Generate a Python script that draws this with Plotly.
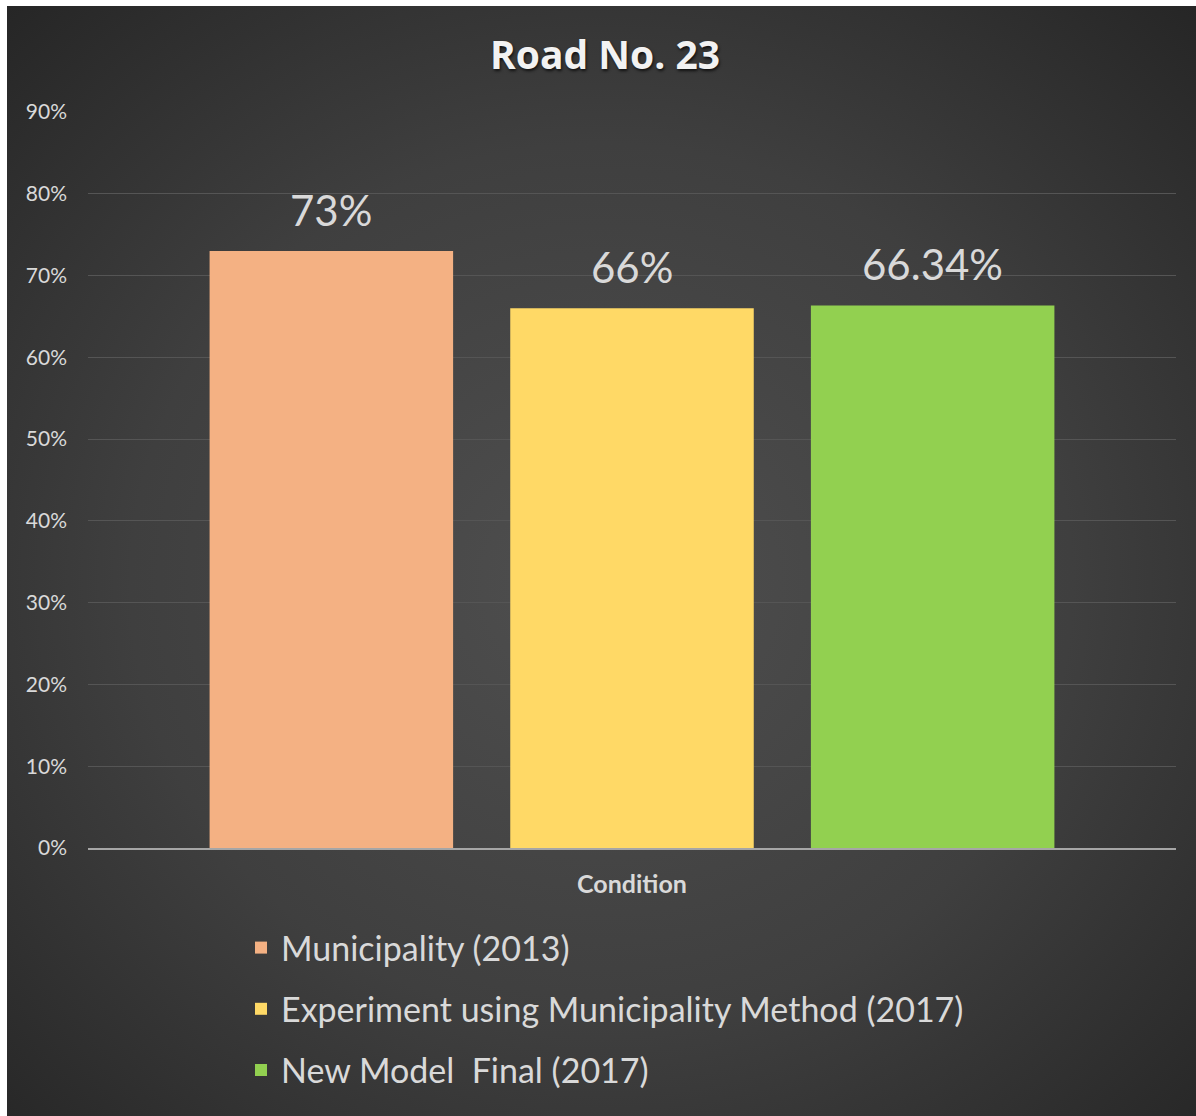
import base64
import plotly.graph_objects as go

# ---- data ----
category = ["Condition"]
series_names = ["Municipality (2013)",
                "Experiment using Municipality Method (2017)",
                "New Model  Final (2017)"]
series_values = [0.73, 0.66, 0.6634]
value_labels = ["73%", "66%", "66.34%"]
series_colors = ["#F4B183", "#FFD966", "#92D050"]
y_ticks = [0, 0.1, 0.2, 0.3, 0.4, 0.5, 0.6, 0.7, 0.8, 0.9]

W, H = 1196, 1116
ML, MR, MT, MB = 88, 20, 112, 268
PW, PH = W - ML - MR, H - MT - MB
BARGAP, GROUPGAP = 0.171, 0.19

FONT = "Lato"
TXT = "#d9d9d9"

fig = go.Figure()
n = len(series_names)
slot_px = PW * (1 - BARGAP) / n
annotations = []
for i, (name, val, lab, col) in enumerate(zip(series_names, series_values, value_labels, series_colors)):
    fig.add_trace(go.Bar(
        x=category, y=[val], name=name, legendgroup=f"g{i}",
        marker=dict(color=col, line=dict(width=0)),
        hoverinfo="skip",
    ))
    annotations.append(dict(
        x=category[0], y=val, xref="x", yref="y", text=lab, showarrow=False,
        xanchor="center", yanchor="bottom", yshift=14,
        xshift=(i - (n - 1) / 2) * slot_px,
        font=dict(family=FONT, size=42, color=TXT),
    ))

# radial gradient background as an inline svg image
svg = (
    '<svg xmlns="http://www.w3.org/2000/svg" width="1189" height="1110" viewBox="0 0 1189 1110" preserveAspectRatio="none">'
    '<defs><radialGradient id="g" cx="50%" cy="52%" r="72%">'
    '<stop offset="0" stop-color="#4f4f4f"/><stop offset="0.55" stop-color="#3f3f3f"/>'
    '<stop offset="1" stop-color="#262626"/></radialGradient></defs>'
    '<rect width="1189" height="1110" fill="url(#g)"/></svg>'
)
uri = "data:image/svg+xml;base64," + base64.b64encode(svg.encode()).decode()

def px_x(p):
    return (p - ML) / PW

def px_y(p):
    return (H - MB - p) / PH

fig.update_layout(
    width=W, height=H,
    margin=dict(l=ML, r=MR, t=MT, b=MB),
    paper_bgcolor="white",
    plot_bgcolor="rgba(0,0,0,0)",
    images=[dict(source=uri, xref="paper", yref="paper",
                 x=px_x(7), y=px_y(6), sizex=(W - 7) / PW, sizey=(H - 6) / PH,
                 xanchor="left", yanchor="top", sizing="stretch", layer="below")],
    barmode="group", bargap=BARGAP, bargroupgap=GROUPGAP,
    annotations=annotations,
    title=dict(text="<b>Road No. 23</b>", x=605 / W, xanchor="center",
               y=1 - 55 / H, yanchor="middle", yref="container",
               font=dict(family="Open Sans", size=39, color="#f2f2f2",
                         shadow="1px 2px 3px rgba(0,0,0,0.7)")),
    xaxis=dict(showline=True, linecolor="#a6a6a6", linewidth=2,
               showgrid=False, ticks="", ticklabelstandoff=13,
               tickfont=dict(family=FONT, size=25, color=TXT),
               tickvals=category, ticktext=["<b>Condition</b>"]),
    yaxis=dict(range=[0, 0.9], tickvals=y_ticks, tickformat=".0%",
               showgrid=True, gridcolor="#555555", gridwidth=1,
               zeroline=False, showline=False, ticks="",
               ticklabelstandoff=20,
               tickfont=dict(family=FONT, size=21, color=TXT)),
    showlegend=True,
    legend=dict(x=px_x(241), xanchor="left", y=px_y(919), yanchor="top",
                orientation="v", bgcolor="rgba(0,0,0,0)",
                font=dict(family=FONT, size=34, color=TXT),
                tracegroupgap=14, itemclick=False),
)

fig.write_html("out.html")
